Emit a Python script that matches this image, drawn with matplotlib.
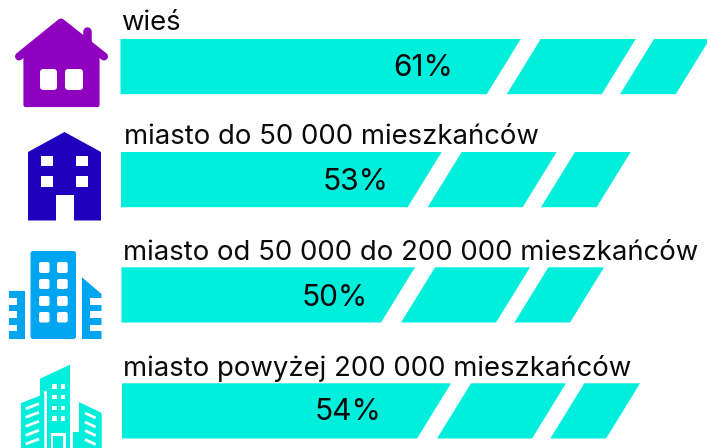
import matplotlib
matplotlib.use("Agg")
import matplotlib.pyplot as plt
from matplotlib.patches import Polygon, Rectangle, FancyBboxPatch
from matplotlib.lines import Line2D

# ---- data ----
categories = ["wieś", "miasto do 50 000 mieszkańców",
              "miasto od 50 000 do 200 000 mieszkańców",
              "miasto powyżej 200 000 mieszkańców"]
percent_labels = ["61%", "53%", "50%", "54%"]
values = [61.25, 52.98, 50.16, 53.85]

# ---- style / layout ----
TEAL = "#00EEDC"
PURPLE = "#8F00BF"
BLUE = "#1F00BF"
SKY = "#00A5F0"
FONT = ["Inter", "DejaVu Sans"]
W, H = 707, 448
PX_PER_UNIT = 9.62
bar_left = [120.5, 121.0, 121.5, 122.0]
bar_top = [39.0, 152.0, 267.3, 383.3]
BAR_H = 55.2
SLANT = 34.0 / PX_PER_UNIT
GAP_A = 20.0 / PX_PER_UNIT      # gap between first and middle piece
GAP_B = 18.3 / PX_PER_UNIT      # gap between middle and last piece
P2 = 95.0 / PX_PER_UNIT         # middle piece width
P3 = 55.7 / PX_PER_UNIT         # last piece width
label_base = [30.5, 144.0, 260.0, 375.7]
label_x = [121.5, 123.5, 123.0, 123.0]
pct_base = [75.5, 190.0, 305.7, 420.0]
pct_cx = [423.0, 356.0, 334.5, 348.0]

fig = plt.figure(figsize=(W / 100, H / 100), dpi=100, facecolor="white")

# icon / text layer in pixels
ax = fig.add_axes([0, 0, 1, 1], zorder=2)
ax.set_xlim(0, W)
ax.set_ylim(H, 0)
ax.axis("off")
ax.patch.set_alpha(0)

# bars layer: x axis in percent units, y axis in pixels
bx = fig.add_axes([0, 0, 1, 1], zorder=1)
bx.set_xlim(0, W / PX_PER_UNIT)
bx.set_ylim(H, 0)
bx.axis("off")

for v, x0, top in zip(values, bar_left, bar_top):
    left = x0 / PX_PER_UNIT
    end = left + v
    bottom = top + BAR_H
    r2 = end - P3 - GAP_B
    r1 = r2 - P2 - GAP_A
    pieces = [
        [(left, top), (r1, top), (r1 - SLANT, bottom), (left, bottom)],
        [(r2 - P2, top), (r2, top), (r2 - SLANT, bottom), (r2 - P2 - SLANT, bottom)],
        [(end - P3, top), (end, top), (end - SLANT, bottom), (end - P3 - SLANT, bottom)],
    ]
    for p in pieces:
        bx.add_patch(Polygon(p, closed=True, fc=TEAL, ec="none"))


def poly(pts, fc, **kw):
    ax.add_patch(Polygon(pts, closed=True, fc=fc, ec=kw.pop("ec", "none"), **kw))


def rect(x0, x1, y0, y1, fc, rounded=0.0):
    if rounded:
        ax.add_patch(FancyBboxPatch((x0 + rounded, y0 + rounded), x1 - x0 - 2 * rounded,
                                    y1 - y0 - 2 * rounded,
                                    boxstyle=f"round,pad={rounded},rounding_size={rounded}",
                                    fc=fc, ec="none"))
    else:
        ax.add_patch(Rectangle((x0, y0), x1 - x0, y1 - y0, fc=fc, ec="none"))


def line(xs, ys, c, px, cap="round"):
    ax.add_line(Line2D(xs, ys, color=c, lw=px * 0.72, solid_capstyle=cap, solid_joinstyle="round"))


# house
line([86.5, 86.5], [31, 46], PURPLE, 8.5)
line([19, 61, 104], [56.5, 22.5, 56.5], PURPLE, 8)
poly([(25.5, 56), (61, 26), (97.5, 56), (97.5, 105), (25.5, 105)], PURPLE,
     ec=PURPLE, lw=3, joinstyle="round")
rect(40, 57, 69, 90, "white", 3.5)
rect(65, 83, 69, 90, "white", 3.5)

# block
poly([(28, 152), (64.5, 132), (101, 152), (101, 220.5), (28, 220.5)], BLUE)
for xa, xb in [(41, 53), (76, 88)]:
    for ya, yb in [(156, 166.5), (176, 187)]:
        rect(xa, xb, ya, yb, "white")
rect(55.5, 73.5, 195, 221, "white")

# towers
rect(30.5, 76, 251, 339, SKY, 2.5)
for xa, xb in [(39, 49.5), (57, 67.7)]:
    for ya, yb in [(262, 273), (279, 289), (296, 306), (312, 322.5)]:
        rect(xa, xb, ya, yb, "white", 2)
poly([(9, 290.7), (25, 290.7), (25, 339), (9, 339)], SKY)
poly([(82, 277.3), (101.5, 294), (101.5, 339), (82, 339)], SKY)
for ya, yb in [(298, 305), (311, 318), (325, 331.5)]:
    rect(9, 17, ya, yb, "white")
    rect(90, 101.5, ya, yb, "white")

# city
poly([(40, 378.7), (70, 364.7), (70, 448), (40, 448)], TEAL)
rect(44.3, 46.8, 391, 448, "white")
poly([(21, 403), (44.3, 394), (44.3, 448), (21, 448)], TEAL)
poly([(79, 402), (101.7, 413), (101.7, 448), (79, 448)], TEAL)
rect(73.3, 80, 432, 448, TEAL)
for xa, xb in [(52.3, 56.7), (60.7, 65)]:
    for ya, yb in [(384, 388.7), (394.7, 399.3), (406.3, 410.3), (416.3, 420.7)]:
        rect(xa, xb, ya, yb, "white")
rect(50.7, 66, 433.3, 448, "white")
rect(53.3, 63.3, 436, 448, TEAL)
for y in [408.7, 417.3, 426.3, 435.3, 444]:
    line([25.7, 39], [y, y - 5], "white", 2.8, cap="butt")
for y in [413, 422, 430.5, 439.5]:
    line([85, 95.7], [y, y + 5], "white", 2.8, cap="butt")

# text
LABEL_PT = 20.0
PCT_PT = 21.5
texts = []
for name, x, y in zip(categories, label_x, label_base):
    texts.append(ax.text(x, y, name, ha="left", va="baseline", fontsize=LABEL_PT,
                         family=FONT, color="#0a0a0a"))
for name, x, y in zip(percent_labels, pct_cx, pct_base):
    ax.text(x, y, name, ha="center", va="baseline", fontsize=PCT_PT,
            family=FONT, color="#0a0a0a")

# fit label size to the reference's width of the longest label
r = fig.canvas.get_renderer()
w = texts[2].get_window_extent(r).width
for t in texts:
    t.set_fontsize(LABEL_PT * 575.0 / w)

fig.savefig("out.png", dpi=100, facecolor="white")
